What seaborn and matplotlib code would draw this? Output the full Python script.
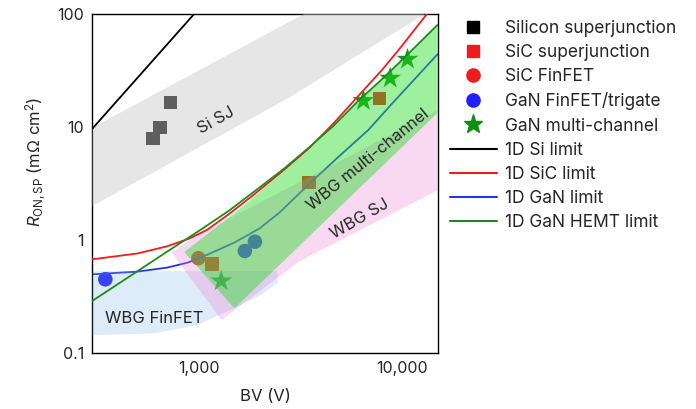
import matplotlib
matplotlib.use("Agg")
import matplotlib.pyplot as plt
import seaborn as sns
from matplotlib.lines import Line2D
from matplotlib.ticker import FixedLocator, NullFormatter, FixedFormatter

# ---------------- data ----------------
si_sj_bv = [596, 644, 728]
si_sj_r = [7.94, 9.93, 16.4]
sic_sj_bv = [1160, 3483, 7770]
sic_sj_r = [0.61, 3.24, 17.9]
sic_fin_bv = [997]
sic_fin_r = [0.69]
gan_fin_bv = [347, 1688, 1892]
gan_fin_r = [0.449, 0.80, 0.966]
gan_mc_bv = [1291, 6472, 8770, 10670]
gan_mc_r = [0.434, 17.1, 27.0, 39.7]

si_lim_bv = [300, 1000]
si_lim_r = [9.7, 111]
sic_lim_bv = [300, 500, 700, 900, 1100, 1400, 1885, 2600, 3500, 4600, 6222, 8000, 10000, 13300, 15000]
sic_lim_r = [0.675, 0.76, 0.88, 1.03, 1.23, 1.68, 2.55, 4.1, 6.5, 10.7, 19.5, 32, 52, 100, 128]
gan_lim_bv = [300, 500, 700, 880, 1046, 1500, 2000, 2500, 3480, 4800, 6842, 9100, 15000]
gan_lim_r = [0.497, 0.525, 0.57, 0.63, 0.71, 0.95, 1.27, 1.75, 3.1, 5.3, 9.4, 16.6, 44]
hemt_lim_bv = [300, 500, 700, 1000, 1400, 1885, 2600, 3500, 4600, 6222, 8000, 10000, 15000]
hemt_lim_r = [0.29, 0.53, 0.79, 1.2, 1.8, 2.7, 4.2, 6.6, 10.2, 17.6, 26.5, 39, 80]

# shaded regions (polygon vertices, BV / R_on)
si_sj_reg_bv = [300, 3300, 13000, 2742, 300]
si_sj_reg_r = [9.9, 100, 100, 17.9, 2.0]
finfet_reg_bv = [300, 2450, 2450, 2024, 1496, 985, 603, 300]
finfet_reg_r = [0.53, 0.53, 0.416, 0.326, 0.249, 0.177, 0.149, 0.144]
wbg_sj_reg_bv = [733, 1008, 15000, 15000, 3148, 1295]
wbg_sj_reg_r = [0.783, 1.13, 14.0, 2.74, 0.652, 0.196]
mc_reg_bv = [849, 1683, 2600, 3500, 4600, 6222, 8000, 10000, 15000, 15000, 1501]
mc_reg_r = [0.783, 2.04, 4.0, 6.3, 10.0, 17.3, 26.0, 38.5, 79, 13.3, 0.249]

x_ticks = [1000, 10000]
x_ticklabels = ["1,000", "10,000"]
y_ticks = [0.1, 1, 10, 100]
y_ticklabels = ["0.1", "1", "10", "100"]

legend_labels = ["Silicon superjunction", "SiC superjunction", "SiC FinFET",
                 "GaN FinFET/trigate", "GaN multi-channel", "1D Si limit",
                 "1D SiC limit", "1D GaN limit", "1D GaN HEMT limit"]

# ---------------- style ----------------
sns.set_style("white")
plt.rcParams["font.family"] = ["Inter", "DejaVu Sans"]
plt.rcParams["mathtext.fontset"] = "custom"
plt.rcParams["mathtext.rm"] = "Inter"
plt.rcParams["mathtext.it"] = "Inter:italic"

FS_TICK = 11.5
FS_LAB = 12
FS_LEG = 12.5
C_RED = "#ee1c1c"
C_BLUE = "#2233ee"
C_GREEN = "#1a8c1a"

fig = plt.figure(figsize=(6.96, 4.09), dpi=100)
ax = fig.add_axes([0.1329, 0.1369, 0.4957, 0.8289])
ax.set_xscale("log")
ax.set_yscale("log")

# markers (under the translucent regions)
sns.scatterplot(x=si_sj_bv, y=si_sj_r, marker="s", s=95, color="black", edgecolor="none", ax=ax, zorder=2)
sns.scatterplot(x=sic_sj_bv, y=sic_sj_r, marker="s", s=95, color=C_RED, edgecolor="none", ax=ax, zorder=2)
sns.scatterplot(x=sic_fin_bv, y=sic_fin_r, marker="o", s=110, color=C_RED, edgecolor="none", ax=ax, zorder=2)
sns.scatterplot(x=gan_fin_bv, y=gan_fin_r, marker="o", s=110, color="#1f1fff", edgecolor="none", ax=ax, zorder=2)
sns.scatterplot(x=gan_mc_bv, y=gan_mc_r, marker="*", s=270, color="#0f960f", edgecolor="none", ax=ax, zorder=2)

# blue limit line sits under the green region
sns.lineplot(x=gan_lim_bv, y=gan_lim_r, sort=False, estimator=None, color=C_BLUE, lw=1.3, ax=ax, zorder=2.5)

# regions
ax.fill(si_sj_reg_bv, si_sj_reg_r, color=(202/255, 202/255, 202/255), alpha=0.47, lw=0, zorder=3)
ax.fill(finfet_reg_bv, finfet_reg_r, color=(124/255, 176/255, 228/255), alpha=0.25, lw=0, zorder=3)
ax.fill(wbg_sj_reg_bv, wbg_sj_reg_r, color=(238/255, 132/255, 212/255), alpha=0.3, lw=0, zorder=3.2)
ax.fill(mc_reg_bv, mc_reg_r, color=(40/255, 220/255, 40/255), alpha=0.45, lw=0, zorder=3.5)

# limit lines on top
sns.lineplot(x=si_lim_bv, y=si_lim_r, sort=False, estimator=None, color="black", lw=1.3, ax=ax, zorder=5)
sns.lineplot(x=sic_lim_bv, y=sic_lim_r, sort=False, estimator=None, color=C_RED, lw=1.3, ax=ax, zorder=5)
sns.lineplot(x=hemt_lim_bv, y=hemt_lim_r, sort=False, estimator=None, color=C_GREEN, lw=1.3, ax=ax, zorder=5.1)

# region labels
ax.text(1213, 11.5, "Si SJ", rotation=29, ha="center", va="center", fontsize=FS_LAB, zorder=6,
        rotation_mode="anchor")
ax.text(6825, 5.1, "WBG multi-channel", rotation=39, ha="center", va="center", fontsize=FS_LAB, zorder=6,
        rotation_mode="anchor")
ax.text(6224, 1.53, "WBG SJ", rotation=30, ha="center", va="center", fontsize=FS_LAB, zorder=6,
        rotation_mode="anchor")
ax.text(603, 0.204, "WBG FinFET", ha="center", va="center", fontsize=FS_LAB, zorder=6)

# axes
ax.set_xlim(300, 15000)
ax.set_ylim(0.1, 100)
ax.xaxis.set_major_locator(FixedLocator(x_ticks))
ax.xaxis.set_major_formatter(FixedFormatter(x_ticklabels))
ax.xaxis.set_minor_locator(FixedLocator([400, 500, 600, 700, 800, 900] + [2000, 3000, 4000, 5000, 6000, 7000, 8000, 9000]))
ax.xaxis.set_minor_formatter(NullFormatter())
ax.yaxis.set_major_locator(FixedLocator(y_ticks))
ax.yaxis.set_major_formatter(FixedFormatter(y_ticklabels))
ax.yaxis.set_minor_locator(FixedLocator([m * d for d in [0.1, 1, 10] for m in range(2, 10)]))
ax.yaxis.set_minor_formatter(NullFormatter())
ax.tick_params(which="major", direction="in", length=5, width=0.9, labelsize=FS_TICK, pad=6,
               top=False, right=False, color="black")
ax.tick_params(which="minor", direction="in", length=2.6, width=0.8, top=False, right=False, color="black")
for sp in ax.spines.values():
    sp.set_color("black")
    sp.set_linewidth(1.0)
ax.set_xlabel("BV (V)", fontsize=FS_LAB, labelpad=9)
ax.set_ylabel(r"$R_{\mathrm{ON,SP}}$ (m$\Omega$ cm$^2$)", fontsize=FS_LAB)
ax.yaxis.set_label_coords(-0.1285, 0.563)

# legend
handles = [
    Line2D([], [], marker="s", ls="none", color="black", markersize=8.5),
    Line2D([], [], marker="s", ls="none", color=C_RED, markersize=8.5),
    Line2D([], [], marker="o", ls="none", color=C_RED, markersize=9.5),
    Line2D([], [], marker="o", ls="none", color="#1f1fff", markersize=9.5),
    Line2D([], [], marker="*", ls="none", color="#0f8f0f", markersize=14),
    Line2D([], [], color="black", lw=1.5),
    Line2D([], [], color=C_RED, lw=1.5),
    Line2D([], [], color=C_BLUE, lw=1.5),
    Line2D([], [], color=C_GREEN, lw=1.5),
]
fig.legend(handles, legend_labels, loc="upper left", bbox_to_anchor=(0.6466, 0.951),
           frameon=False, fontsize=FS_LEG, handlelength=2.7, handletextpad=0.46,
           labelspacing=0.41, borderpad=0, borderaxespad=0)

fig.savefig("out.png", dpi=100)
